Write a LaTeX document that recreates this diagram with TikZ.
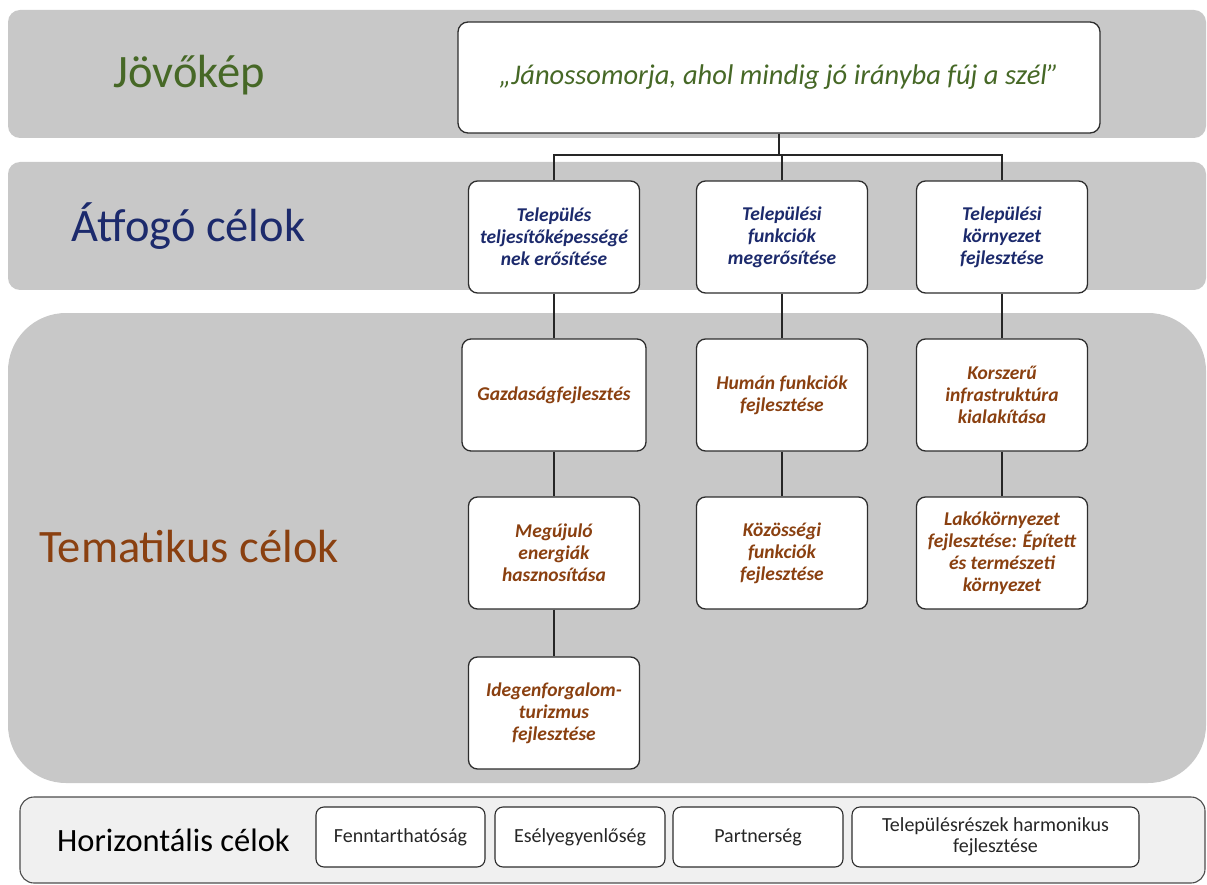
\documentclass[tikz,border=0pt]{standalone}
\usepackage{fontspec}
\setmainfont{Carlito}
\definecolor{bandgray}{RGB}{200,200,200}
\definecolor{hband}{RGB}{240,240,240}
\definecolor{boxline}{RGB}{45,45,45}
\definecolor{vgreen}{RGB}{70,104,38}
\definecolor{navy}{RGB}{28,42,108}
\definecolor{brownt}{RGB}{138,64,16}
\begin{document}
\begin{tikzpicture}[x=1pt,y=-1pt,
  band/.style={fill=bandgray, draw=none},
  gbox/.style={draw=boxline, line width=1.3pt, rounded corners=9pt, fill=white, align=center,
    inner sep=2pt, minimum width=171pt, minimum height=112pt},
  abox/.style={gbox, text=navy, font=\fontsize{19.5}{22}\selectfont\bfseries\itshape},
  tbox/.style={gbox, text=brownt, font=\fontsize{19.5}{22}\selectfont\bfseries\itshape},
  hbox/.style={draw=boxline, line width=1.1pt, rounded corners=8pt, fill=white, align=center,
    inner sep=2pt, minimum height=60pt, font=\fontsize{20}{21}\selectfont, text=black!85},
  title/.style={anchor=center, font=\fontsize{46.5}{50}\selectfont},
  conn/.style={draw=black!85, line width=1.1pt}
]
\useasboundingbox (0,0) rectangle (1207,885);
% bands
\fill[band, rounded corners=12pt] (8,10) rectangle (1206,138);
\fill[band, rounded corners=12pt] (8,162) rectangle (1206,290);
\fill[band, rounded corners=58pt] (8,313) rectangle (1206,783);
\draw[fill=hband, draw=black!70, line width=1.1pt, rounded corners=14pt] (20,797) rectangle (1205,883);
% titles
\node[title, text=vgreen] (t1) at (189,75) {Jövőkép};
\node[title, text=navy] (t2) at (188.5,226) {Átfogó célok};
\node[title, text=brownt] (t3) at (189,547) {Tematikus célok};
\node[title, text=black, font=\fontsize{32.5}{36}\selectfont] (t4) at (173.5,840) {Horizontális célok};
% vision
\node[draw=boxline, line width=1.3pt, rounded corners=10pt, fill=white, minimum width=642pt, minimum height=111pt,
  text=vgreen, font=\fontsize{28.5}{32}\selectfont\itshape] (v) at (779,77.5) {„Jánossomorja, ahol mindig jó irányba fúj a szél”};
% level 2
\node[abox] (a1) at (554,237) {Település\\teljesítőképességé\\nek erősítése};
\node[abox] (a2) at (782,237) {Települési\\funkciók\\megerősítése};
\node[abox] (a3) at (1002,237) {Települési\\környezet\\fejlesztése};
% level 3
\node[tbox, minimum width=184pt] (g1) at (554,395) {Gazdaságfejlesztés};
\node[tbox] (g2) at (782,395) {Humán funkciók\\fejlesztése};
\node[tbox] (g3) at (1002,395) {Korszerű\\infrastruktúra\\kialakítása};
% level 4
\node[tbox] (m1) at (554,553) {Megújuló\\energiák\\hasznosítása};
\node[tbox] (m2) at (782,553) {Közösségi\\funkciók\\fejlesztése};
\node[tbox] (m3) at (1002,553) {Lakókörnyezet\\fejlesztése: Épített\\és természeti\\környezet};
% level 5
\node[tbox] (i1) at (554,713) {Idegenforgalom-\\turizmus\\fejlesztése};
% horizontal goals
\node[hbox, minimum width=169pt] (h1) at (400.5,837) {Fenntarthatóság};
\node[hbox, minimum width=170pt] (h2) at (580,837) {Esélyegyenlőség};
\node[hbox, minimum width=170pt] (h3) at (758,837) {Partnerség};
\node[hbox, minimum width=287pt] (h4) at (995.5,837) {Településrészek harmonikus\\fejlesztése};
% connectors
\coordinate (j) at (779,155);
\draw[conn] (v.south) -- (j);
\draw[conn] (a1.north) |- (j) -| (a3.north);
\draw[conn] (a2.north) -- (a2.north |- j);
\draw[conn] (a1.south) -- (g1.north);
\draw[conn] (a2.south) -- (g2.north);
\draw[conn] (a3.south) -- (g3.north);
\draw[conn] (g1.south) -- (m1.north);
\draw[conn] (g2.south) -- (m2.north);
\draw[conn] (g3.south) -- (m3.north);
\draw[conn] (m1.south) -- (i1.north);
\end{tikzpicture}
\end{document}
